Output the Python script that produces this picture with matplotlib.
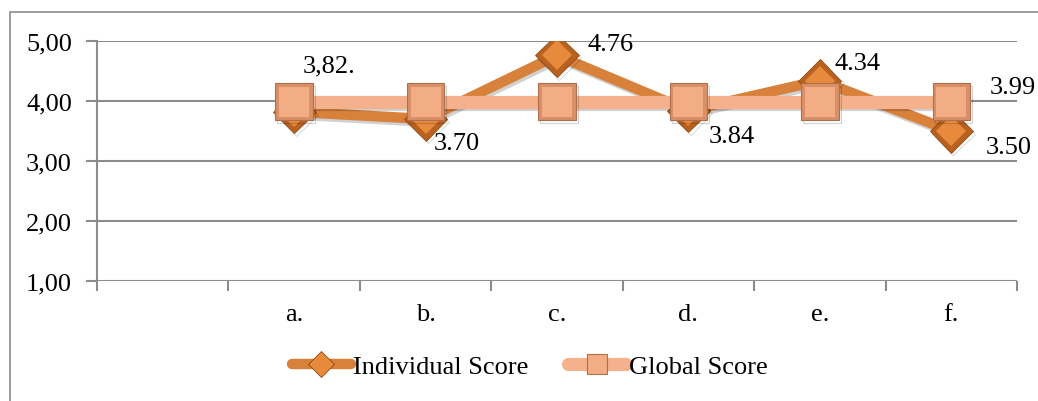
import numpy as np
import matplotlib
matplotlib.use("Agg")
import matplotlib.pyplot as plt
from matplotlib.patches import Rectangle
from matplotlib.lines import Line2D
import matplotlib.patheffects as pe

# Data
categories = ["", "a.", "b.", "c.", "d.", "e.", "f."]
individual = [np.nan, 3.82, 3.70, 4.76, 3.84, 4.34, 3.50]
global_score = [np.nan, 3.99, 3.99, 3.99, 3.99, 3.99, 3.99]
individual_labels = ["", "3,82.", "3.70", "4.76", "3.84", "4.34", "3.50"]
y_ticks = [1, 2, 3, 4, 5]
y_tick_labels = ["1,00", "2,00", "3,00", "4,00", "5,00"]

ind_line = "#D8813A"
ind_face = "#E88A3C"
ind_bevel = "#B9621F"
glob_line = "#F4B18C"
glob_face = "#F3AD84"
glob_bevel = "#D98F68"
grid_col = "#8C8C8C"

plt.rcParams["font.family"] = ["Liberation Serif", "DejaVu Serif"]
FS = 19

fig = plt.figure(figsize=(10.38, 4.02), dpi=100)
W, H = 1038, 402

# outer chart frame
fig.patches.append(Rectangle((10 / W, -0.05), 1.1, 1 - 13 / H + 0.05,
                             transform=fig.transFigure, fill=False,
                             edgecolor="#8C8C8C", linewidth=1.2))

ax = fig.add_axes([97 / W, 1 - 282 / H, (1017 - 97) / W, (282 - 42) / H])
x = np.arange(len(categories))

ax.set_xlim(-0.5, len(categories) - 0.5)
ax.set_ylim(1, 5)

for s in ["top", "right", "bottom"]:
    ax.spines[s].set_visible(False)
ax.spines["left"].set_color(grid_col)
ax.spines["left"].set_linewidth(1.5)

ax.set_yticks(y_ticks)
ax.set_yticklabels(y_tick_labels, fontsize=FS)
ax.tick_params(axis="y", length=8, width=1.5, color=grid_col, pad=10, direction="out")
ax.yaxis.grid(True, color=grid_col, linewidth=1.5)
ax.set_axisbelow(True)

ax.set_xticks(x)
ax.set_xticklabels(categories, fontsize=FS)
ax.tick_params(axis="x", length=0, pad=16)
ax.set_xticks(np.arange(-0.5, len(categories)), minor=True)
ax.tick_params(axis="x", which="minor", length=7, width=1.5, color=grid_col, direction="out")

shadow = [pe.SimpleLineShadow(offset=(1.5, -2), shadow_color="#000000", alpha=0.18), pe.Normal()]

# Individual series: line + bevelled diamond markers
l1, = ax.plot(x, individual, color=ind_line, linewidth=7.5, marker="D", markersize=22,
              markerfacecolor=ind_bevel, markeredgecolor="#8E4A14", markeredgewidth=0.6,
              zorder=3, solid_joinstyle="miter")
l1.set_path_effects(shadow)
ax.plot(x, individual, linestyle="none", marker="D", markersize=15,
        markerfacecolor=ind_face, markeredgewidth=0, zorder=3.1)

# Global series: line + bevelled square markers
l2, = ax.plot(x, global_score, color=glob_line, linewidth=9.5, marker="s", markersize=27,
              markerfacecolor=glob_bevel, markeredgecolor="#B06E4C", markeredgewidth=0.8,
              zorder=4)
l2.set_path_effects(shadow)
ax.plot(x, global_score, linestyle="none", marker="s", markersize=21,
        markerfacecolor=glob_face, markeredgewidth=0, zorder=4.1)

# data labels
offsets = [None, (9, 46), (8, -24), (30, 11), (20, -25), (15, 18), (34, -16)]
for xi, v, txt, off in zip(x, individual, individual_labels, offsets):
    if off is None or np.isnan(v):
        continue
    ax.annotate(txt, (xi, v), xytext=off, textcoords="offset pixels",
                fontsize=FS, ha="left", va="center", zorder=6)
ax.annotate("3.99", (x[-1], global_score[-1]), xytext=(38, 15), textcoords="offset pixels",
            fontsize=FS, ha="left", va="center", zorder=6)

h1 = Line2D([], [], color=ind_line, linewidth=7.5, marker="D", markersize=13,
            markerfacecolor=ind_face, markeredgecolor="#8E4A14", markeredgewidth=0.6,
            solid_capstyle="round")
h2 = Line2D([], [], color=glob_line, linewidth=9.5, marker="s", markersize=15,
            markerfacecolor=glob_face, markeredgecolor="#B06E4C", markeredgewidth=0.8,
            solid_capstyle="round")
fig.legend(handles=[h1, h2], labels=["Individual Score", "Global Score"], loc="center",
           bbox_to_anchor=(530 / W, 1 - 367 / H), ncol=2, frameon=False, fontsize=FS,
           handlelength=2.2, handletextpad=0.1, columnspacing=1.5)

fig.savefig("out.png", dpi=100)
